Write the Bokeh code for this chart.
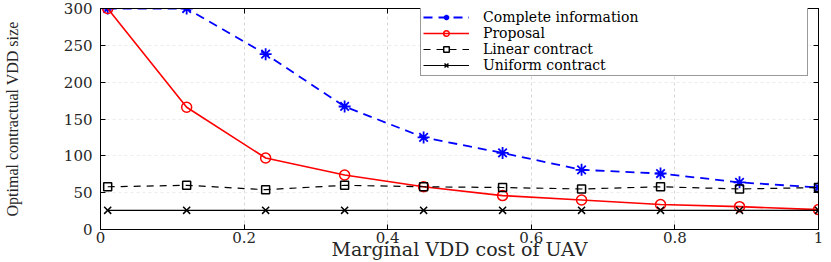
from bokeh.plotting import figure
from bokeh.models import (LinearAxis, Legend, LegendItem, Range1d,
                          FixedTicker, ColumnDataSource)
from bokeh.embed import file_html
from bokeh.resources import INLINE

# ---- data ----
x_cost = [0.01, 0.12, 0.23, 0.34, 0.45, 0.56, 0.67, 0.78, 0.89, 1.0]
complete_info = [300, 300, 238, 167, 125, 104, 81, 76, 64, 57]
proposal = [300, 166, 97, 74, 58, 46, 40, 34, 31, 27]
linear_contract = [58, 60, 54, 60, 58, 57, 55, 58, 55, 57]
uniform_contract = [26, 26, 26, 26, 26, 26, 26, 26, 26, 26]

x_ticks = [0, 0.2, 0.4, 0.6, 0.8, 1]
y_ticks = [0, 50, 100, 150, 200, 250, 300]
series_names = ["Complete information", "Proposal", "Linear contract", "Uniform contract"]
x_title = "Marginal VDD cost of UAV"
y_title = "Optimal contractual VDD size"

TICK_FONT = "DejaVu Serif"

p = figure(width=831, height=262, output_backend="svg", toolbar_location=None,
           x_range=Range1d(0, 1), y_range=Range1d(0, 300),
           min_border_left=98, min_border_right=13, min_border_top=8,
           min_border_bottom=33)
p.background_fill_color = "white"
p.border_fill_color = "white"
p.outline_line_color = "black"
p.outline_line_width = 1

# axes
for ax in (p.xaxis[0], p.yaxis[0]):
    ax.major_tick_in = 5
    ax.major_tick_out = 0
    ax.minor_tick_line_color = None
    ax.axis_line_color = "black"
    ax.major_tick_line_color = "black"
    ax.major_label_text_font = TICK_FONT
    ax.major_label_text_font_size = "15px"
    ax.major_label_text_color = "#262626"

p.xaxis[0].ticker = FixedTicker(ticks=x_ticks)
p.yaxis[0].ticker = FixedTicker(ticks=y_ticks)
p.xaxis[0].major_label_overrides = {0: "0", 1: "1"}
p.xaxis[0].major_label_standoff = 2
p.yaxis[0].major_label_standoff = 8

p.xaxis[0].axis_label = x_title
p.xaxis[0].axis_label_text_font = TICK_FONT
p.xaxis[0].axis_label_text_font_size = "19px"
p.xaxis[0].axis_label_text_font_style = "normal"
p.xaxis[0].axis_label_text_color = "#262626"
p.xaxis[0].axis_label_standoff = -8

p.yaxis[0].axis_label = y_title
p.yaxis[0].axis_label_text_font = "Liberation Serif"
p.yaxis[0].axis_label_text_font_size = "16px"
p.yaxis[0].axis_label_text_font_style = "normal"
p.yaxis[0].axis_label_text_color = "#262626"
p.yaxis[0].axis_label_standoff = 40

# top and right axes (ticks only, no labels)
top = LinearAxis(ticker=FixedTicker(ticks=x_ticks), major_tick_in=5, major_tick_out=0,
                 minor_tick_line_color=None, major_label_text_color=None,
                 major_label_standoff=0, axis_line_color="black")
right = LinearAxis(ticker=FixedTicker(ticks=y_ticks), major_tick_in=5, major_tick_out=0,
                   minor_tick_line_color=None, major_label_text_color=None,
                   major_label_standoff=0, axis_line_color="black")
p.add_layout(top, "above")
p.add_layout(right, "right")

# grid
p.xgrid.ticker = FixedTicker(ticks=x_ticks)
p.ygrid.ticker = FixedTicker(ticks=y_ticks)
for g in (p.xgrid[0], p.ygrid[0]):
    g.grid_line_color = "#d9d9d9"
    g.grid_line_dash = "3 3"
    g.grid_line_width = 1
p.ygrid.grid_line_color = "#ececec"

src = ColumnDataSource(dict(x=x_cost, c=complete_info, p=proposal,
                            l=linear_contract, u=uniform_contract))

l1 = p.line("x", "c", source=src, line_color="#0000ff", line_width=1.8, line_dash="9 6")
m1 = p.scatter("x", "c", source=src, marker="asterisk", size=12,
               line_color="#0000ff", line_width=1.8)
l2 = p.line("x", "p", source=src, line_color="#ff0000", line_width=1.6)
m2 = p.scatter("x", "p", source=src, marker="circle", size=10,
               line_color="#ff0000", fill_color=None, line_width=1.5)
l3 = p.line("x", "l", source=src, line_color="black", line_width=1.2, line_dash="7 6")
m3 = p.scatter("x", "l", source=src, marker="square", size=8,
               line_color="black", fill_color=None, line_width=1.5)
l4 = p.line("x", "u", source=src, line_color="black", line_width=1.2)
m4 = p.scatter("x", "u", source=src, marker="x", size=10,
               line_color="black", line_width=1.5)

legend = Legend(items=[
    LegendItem(label=series_names[0], renderers=[l1, m1]),
    LegendItem(label=series_names[1], renderers=[l2, m2]),
    LegendItem(label=series_names[2], renderers=[l3, m3]),
    LegendItem(label=series_names[3], renderers=[l4, m4]),
], location=(320, 153))
legend.label_text_font = TICK_FONT
legend.label_text_font_size = "14px"
legend.label_text_color = "black"
legend.glyph_width = 46
legend.glyph_height = 14
legend.label_height = 14
legend.label_width = 322
legend.label_standoff = 14
legend.padding = 2
legend.spacing = 0
legend.margin = 0
legend.border_line_color = "#333333"
legend.border_line_width = 1
legend.background_fill_alpha = 1
p.add_layout(legend, "center")

open("out.html", "w").write(file_html(p, INLINE))
